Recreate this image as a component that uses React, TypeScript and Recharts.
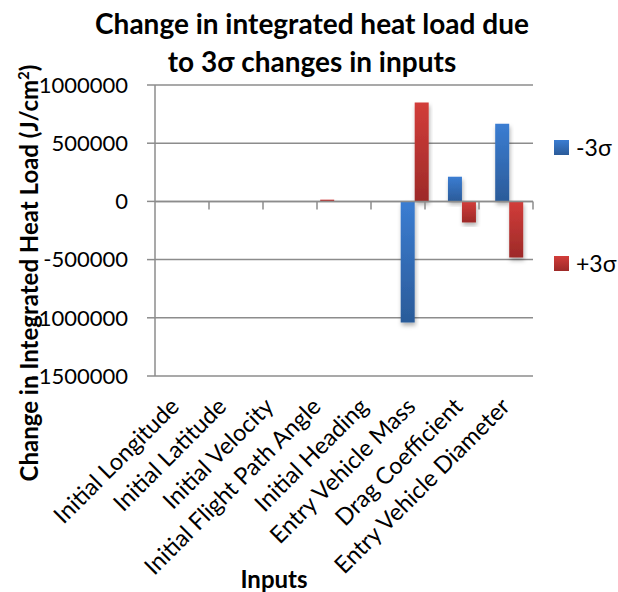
import React from "react";
import {
  BarChart,
  Bar,
  XAxis,
  YAxis,
  CartesianGrid,
  ReferenceLine,
} from "recharts";

// Sensitivity inputs, in the order they appear on the category axis
const inputs = [
  "Initial Longitude",
  "Initial Latitude",
  "Initial Velocity",
  "Initial Flight Path Angle",
  "Initial Heading",
  "Entry Vehicle Mass",
  "Drag Coefficient",
  "Entry Vehicle Diameter",
];

// Change in integrated heat load (J/cm²) for a -3σ and a +3σ perturbation
const minus3Sigma = [-3000, -3000, -3000, -2000, -3000, -1040000, 212000, 668000];
const plus3Sigma = [2000, 2000, 2000, 15000, 2000, 849000, -181000, -482000];

const yTicks = [1000000, 500000, 0, -500000, -1000000, -1500000];

const FONT = "Lato, 'Open Sans', sans-serif";
const AXIS_GRAY = "#8c8c8c";

const series = [
  { key: "minus", label: "-3σ", top: "#3b7dd2", bottom: "#2b5b99" },
  { key: "plus", label: "+3σ", top: "#d23d3a", bottom: "#9d2a28" },
];

const data = inputs.map((name, i) => ({
  name,
  minus: minus3Sigma[i],
  plus: plus3Sigma[i],
}));

// category boundaries 1..n, used for Excel-style tick marks on the zero line
const boundaries = inputs.map((_, i) => i + 1);

function CategoryTick({ x, y, payload }: any) {
  const ty = y + 32;
  return (
    <text
      x={x + 2}
      y={ty}
      textAnchor="end"
      fontFamily={FONT}
      fontSize={23.5}
      fill="#000"
      transform={`rotate(-45, ${x + 2}, ${ty})`}
    >
      {payload.value}
    </text>
  );
}

export default function App() {
  return (
    <div
      style={{
        position: "absolute",
        left: 0,
        top: 0,
        width: 618,
        height: 592,
        background: "#fff",
        fontFamily: FONT,
      }}
    >
      <div
        style={{
          position: "absolute",
          left: 0,
          width: 618,
          top: 4,
          textAlign: "center",
          fontWeight: 700,
          fontSize: 28,
          lineHeight: "38px",
          paddingLeft: 6,
          boxSizing: "border-box",
        }}
      >
        Change in integrated heat load due
        <br />
        to 3σ changes in inputs
      </div>

      <div
        style={{
          position: "absolute",
          left: 28,
          top: 273,
          transform: "translate(-50%, -50%) rotate(-90deg)",
          whiteSpace: "nowrap",
          fontWeight: 700,
          fontSize: 24,
        }}
      >
        Change in Integrated Heat Load (J/cm<sup style={{ fontSize: 15 }}>2</sup>)
      </div>

      <div
        style={{
          position: "absolute",
          left: 274,
          top: 578,
          transform: "translate(-50%, -50%)",
          fontWeight: 700,
          fontSize: 24,
        }}
      >
        Inputs
      </div>

      {series.map((s, i) => (
        <div
          key={s.key}
          style={{
            position: "absolute",
            left: 554,
            top: 133 + i * 116,
            display: "flex",
            alignItems: "center",
            fontSize: 23,
          }}
        >
          <span
            style={{
              width: 15,
              height: 15,
              marginRight: 7,
              background: `linear-gradient(${s.top}, ${s.bottom})`,
            }}
          />
          {s.label}
        </div>
      ))}

      <BarChart
        width={618}
        height={592}
        data={data}
        margin={{ top: 85, right: 85, bottom: 0, left: 0 }}
        barCategoryGap="20%"
        barGap={0}
      >
        <defs>
          {series.map((s) => (
            <linearGradient key={s.key} id={`grad-${s.key}`} x1="0" y1="0" x2="0" y2="1">
              <stop offset="0%" stopColor={s.top} />
              <stop offset="100%" stopColor={s.bottom} />
            </linearGradient>
          ))}
          <filter id="bar-shadow" x="-30%" y="-10%" width="160%" height="130%">
            <feDropShadow dx="1" dy="3" stdDeviation="2" floodColor="#000" floodOpacity="0.3" />
          </filter>
        </defs>
        <CartesianGrid vertical={false} stroke={AXIS_GRAY} strokeWidth={1.5} />
        <XAxis
          dataKey="name"
          height={216}
          interval={0}
          axisLine={false}
          tickLine={false}
          tickSize={0}
          tickMargin={0}
          tick={<CategoryTick />}
        />
        <XAxis xAxisId="bounds" type="number" domain={[0, inputs.length]} hide />
        <YAxis
          width={155}
          domain={[-1500000, 1000000]}
          ticks={yTicks}
          interval={0}
          stroke={AXIS_GRAY}
          strokeWidth={1.5}
          tickSize={8}
          tickMargin={19}
          tick={{ fill: "#000", fontSize: 22, fontFamily: FONT }}
        />
        {series.map((s) => (
          <Bar
            key={s.key}
            dataKey={s.key}
            name={s.label}
            fill={`url(#grad-${s.key})`}
            filter="url(#bar-shadow)"
            isAnimationActive={false}
          />
        ))}
        <ReferenceLine y={0} stroke={AXIS_GRAY} strokeWidth={1.5} />
        {boundaries.map((b) => (
          <ReferenceLine
            key={b}
            xAxisId="bounds"
            segment={[
              { x: b, y: 0 },
              { x: b, y: -70000 },
            ]}
            stroke={AXIS_GRAY}
            strokeWidth={1.5}
          />
        ))}
      </BarChart>
    </div>
  );
}
